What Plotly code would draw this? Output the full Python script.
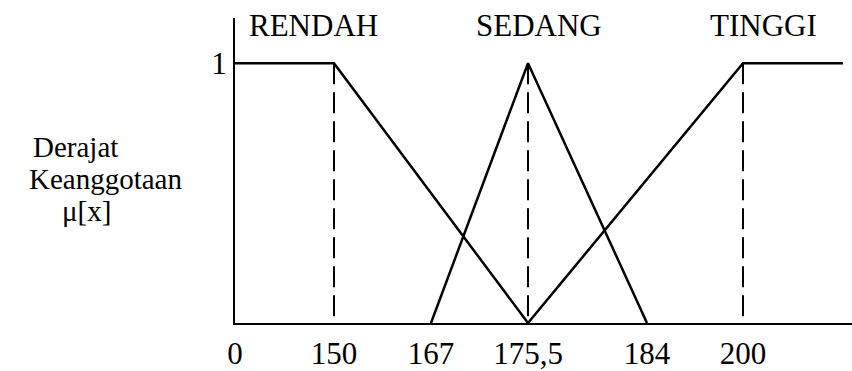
import numpy as np
import plotly.graph_objects as go

# Breakpoints of the fuzzy sets (height in cm) and their tick labels
breakpoints = [0, 150, 167, 175.5, 184, 200]
tick_labels = ["0", "150", "167", "175,5", "184", "200"]
x_end = 210  # the TINGGI plateau continues past 200

# Membership functions: (x, mu) corner points
rendah_x = [0, 150, 175.5]
rendah_mu = [1, 1, 0]
sedang_x = [167, 175.5, 184]
sedang_mu = [0, 1, 0]
tinggi_x = [175.5, 200, x_end]
tinggi_mu = [0, 1, 1]

set_names = ["RENDAH", "SEDANG", "TINGGI"]
set_label_x = [118.2, 176.3, 202]

# Schematic (not-to-scale) horizontal axis: each breakpoint gets its own slot
scale_in = breakpoints + [x_end]
scale_out = [0, 99, 196, 293, 412, 508, 608]


def sx(v):
    return np.interp(v, scale_in, scale_out)


FONT = "Liberation Serif"
INK = "black"
FS = 31

fig = go.Figure()

for xs, ys in [(rendah_x, rendah_mu), (sedang_x, sedang_mu), (tinggi_x, tinggi_mu)]:
    fig.add_trace(go.Scatter(x=sx(xs), y=ys, mode="lines",
                             line=dict(color=INK, width=2.5),
                             hoverinfo="skip", showlegend=False))

# Dashed guides from the peaks down to the axis
for v in [150, 175.5, 200]:
    fig.add_trace(go.Scatter(x=sx([v, v]), y=[1, 0], mode="lines",
                             line=dict(color=INK, width=2, dash="21px,8px"),
                             hoverinfo="skip", showlegend=False))

for name, lx in zip(set_names, set_label_x):
    fig.add_annotation(x=sx(lx), y=1.147, xref="x", yref="y", text=name,
                       showarrow=False, xanchor="center", yanchor="middle",
                       font=dict(family=FONT, size=FS, color=INK))

# Y-axis caption
for txt, px, py in [("Derajat", 75, 1.0 - (149 - 64) / 265),
                    ("Keanggotaan", 105, 1.0 - (182 - 64) / 265),
                    ("\u03bc[x]", 86, 1.0 - (215 - 64) / 265)]:
    fig.add_annotation(x=(px - 235) / 617, y=py, xref="paper", yref="y", text=txt,
                       showarrow=False, xanchor="center", yanchor="middle",
                       font=dict(family=FONT, size=29, color=INK))

fig.update_layout(
    width=852, height=371,
    margin=dict(l=235, r=0, t=18, b=42),
    paper_bgcolor="white", plot_bgcolor="white",
    font=dict(family=FONT, size=FS, color=INK),
    xaxis=dict(range=[0, 617], showgrid=False, zeroline=False,
               showline=True, linecolor=INK, linewidth=2,
               tickmode="array", tickvals=sx(breakpoints), ticktext=tick_labels,
               ticks="", ticklabelstandoff=2,
               tickfont=dict(family=FONT, size=FS, color=INK)),
    yaxis=dict(range=[0, 1.174], showgrid=False, zeroline=False,
               showline=True, linecolor=INK, linewidth=2,
               tickmode="array", tickvals=[1], ticktext=["1"],
               ticks="", ticklabelstandoff=0,
               tickfont=dict(family=FONT, size=FS, color=INK)),
)

fig.write_html("out.html")
